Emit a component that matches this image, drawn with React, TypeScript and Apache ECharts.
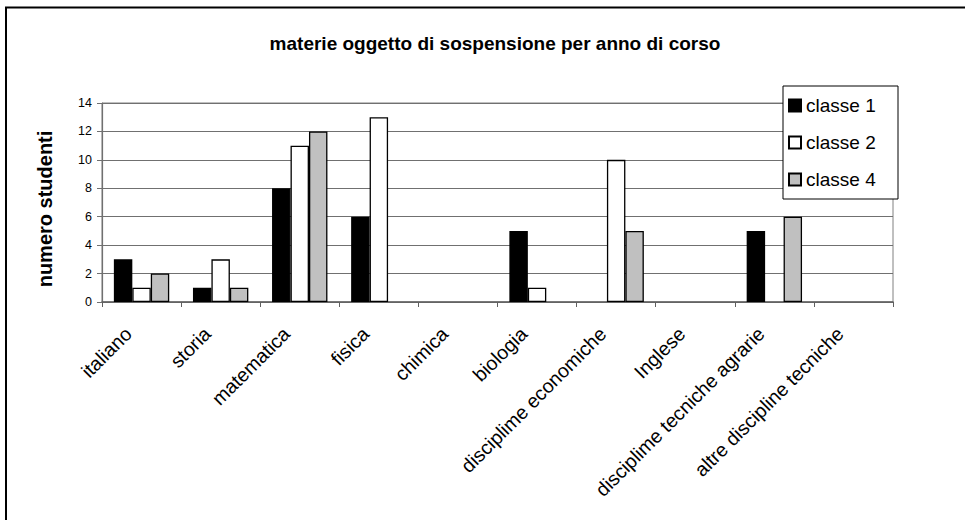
import React, { useEffect, useRef } from "react";
import * as echarts from "echarts";

const categories = [
  "italiano",
  "storia",
  "matematica",
  "fisica",
  "chimica",
  "biologia",
  "disciplime economiche",
  "Inglese",
  "disciplime tecniche agrarie",
  "altre discipline tecniche",
];
const classe1 = [3, 1, 8, 6, 0, 5, 0, 0, 5, 0];
const classe2 = [1, 3, 11, 13, 0, 1, 10, 0, 0, 0];
const classe4 = [2, 1, 12, 0, 0, 0, 5, 0, 6, 0];
const seriesNames = ["classe 1", "classe 2", "classe 4"];
const yTicks = { min: 0, max: 14, interval: 2 };

const FONT = "'Liberation Sans', Arial, Helvetica, sans-serif";

export default function App() {
  const ref = useRef<HTMLDivElement>(null);
  useEffect(() => {
    if (!ref.current) return;
    const chart = echarts.init(ref.current, undefined, { renderer: "svg" });
    const toData = (arr: number[]) => arr.map((v) => (v === 0 ? null : v));
    const colors = ["#000000", "#ffffff", "#c0c0c0"];
    const all = [classe1, classe2, classe4];
    chart.setOption({
      animation: false,
      backgroundColor: "#ffffff",
      textStyle: { fontFamily: FONT },
      title: {
        text: "materie oggetto di sospensione per anno di corso",
        left: 490,
        top: 29,
        textAlign: "center",
        textStyle: { fontFamily: FONT, fontSize: 19, fontWeight: "bold", color: "#000" },
      },
      legend: {
        orient: "vertical",
        left: 788,
        top: 96,
        itemWidth: 12,
        itemHeight: 12,
        itemGap: 18,
        padding: 0,
        borderWidth: 0,
        data: seriesNames.map((n) => ({ name: n, icon: "rect" })),
        textStyle: { fontFamily: FONT, fontSize: 19, color: "#000" },
        z: 10,
      },
      grid: {
        left: 102,
        right: 72,
        top: 103,
        bottom: 218,
        show: true,
        borderColor: "#808080",
        borderWidth: 1,
        backgroundColor: "transparent",
      },
      xAxis: {
        type: "category",
        data: categories,
        axisLine: { lineStyle: { color: "#606060", width: 1.5 } },
        axisTick: { show: true, length: 5, lineStyle: { color: "#606060" } },
        axisLabel: {
          interval: 0,
          rotate: 45,
          fontFamily: FONT,
          fontSize: 19.5,
          color: "#000",
          margin: 15,
          padding: [0, 19, 0, 0],
        },
        splitLine: { show: false },
      },
      yAxis: {
        type: "value",
        min: yTicks.min,
        max: yTicks.max,
        interval: yTicks.interval,
        axisLine: { show: true, lineStyle: { color: "#707070", width: 1.2 } },
        axisTick: { show: true, length: 5, lineStyle: { color: "#707070" } },
        axisLabel: { fontFamily: FONT, fontSize: 12.5, color: "#000", margin: 10 },
        splitLine: { show: true, lineStyle: { color: "#707070", width: 1 } },
      },
      graphic: [
        {
          type: "rect",
          shape: { x: 6, y: 7.5, width: 1000, height: 600 },
          style: { fill: "none", stroke: "#000", lineWidth: 2 },
          silent: true,
          z: 0,
        },
        {
          type: "rect",
          shape: { x: 783, y: 86, width: 115, height: 113 },
          style: { fill: "#ffffff", stroke: "#000", lineWidth: 1 },
          silent: true,
          z: 5,
        },
        {
          type: "text",
          x: 45,
          y: 209,
          rotation: Math.PI / 2,
          style: {
            text: "numero studenti",
            font: `bold 20px ${FONT}`,
            fill: "#000",
            textAlign: "center",
            textVerticalAlign: "middle",
          },
          z: 5,
        },
      ],
      series: all.map((arr, i) => ({
        name: seriesNames[i],
        type: "bar",
        data: toData(arr),
        barGap: "0%",
        barCategoryGap: "30%",
        itemStyle: { color: colors[i], borderColor: "#000", borderWidth: 1.3 },
      })),
    });
    return () => chart.dispose();
  }, []);
  return (
    <div
      ref={ref}
      style={{ position: "fixed", left: 0, top: 0, width: 965, height: 520 }}
    />
  );
}
